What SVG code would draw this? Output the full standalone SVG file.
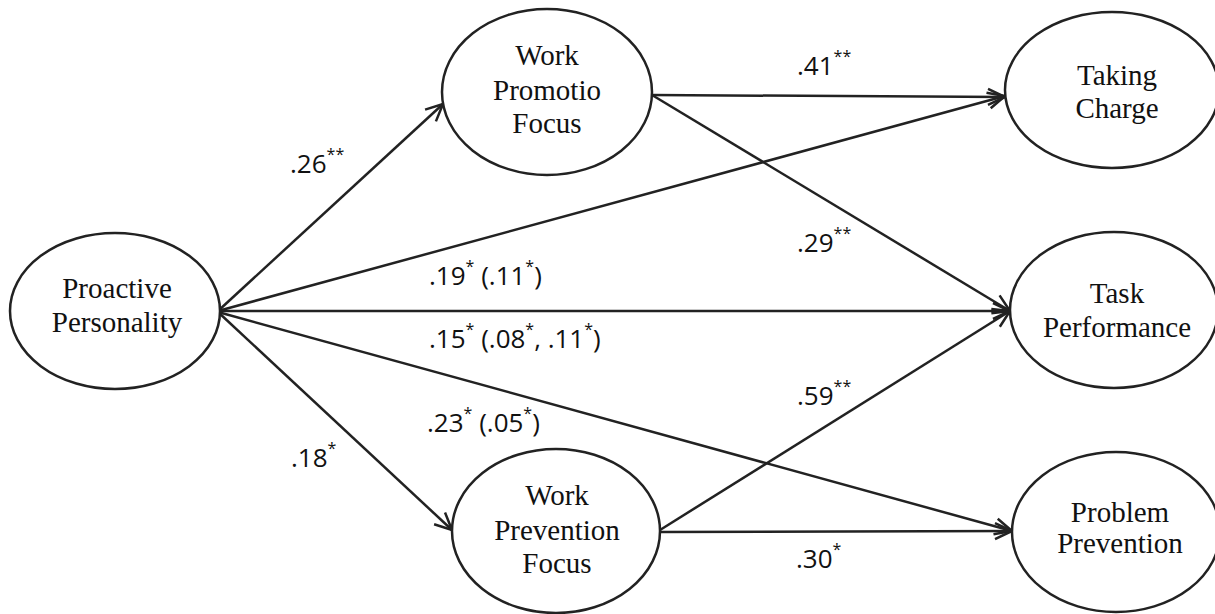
<svg xmlns="http://www.w3.org/2000/svg" width="1215" height="614" viewBox="0 0 1215 614">
<defs>
<marker id="arr" markerUnits="userSpaceOnUse" markerWidth="22" markerHeight="22" viewBox="0 0 22 22" refX="20" refY="11" orient="auto">
<path d="M3,3 L20,11 L3,19" fill="none" stroke="#222" stroke-width="2.5"/>
</marker>
<style>
.node ellipse{fill:#fff;stroke:#222;stroke-width:2.5}
.node text{font-family:"Liberation Serif","Times New Roman",serif;font-size:29px;fill:#111;text-anchor:middle}
.edges line{stroke:#222;stroke-width:2.5;marker-end:url(#arr)}
.lbl{font-family:"Open Sans","Liberation Sans",sans-serif;font-size:26px;fill:#111}
.sup{font-size:16px}
</style>
</defs>
<rect width="1215" height="614" fill="#fff"/>
<g class="edges">
<line x1="218" y1="311" x2="443" y2="104"/>
<line x1="218" y1="311" x2="1005" y2="96"/>
<line x1="652" y1="95" x2="1005" y2="97"/>
<line x1="652" y1="95" x2="1010" y2="311"/>
<line x1="218" y1="311" x2="1010" y2="311"/>
<line x1="218" y1="312" x2="1012" y2="531"/>
<line x1="218" y1="312" x2="452" y2="530"/>
<line x1="660" y1="530" x2="1010" y2="311"/>
<line x1="660" y1="532" x2="1012" y2="531"/>
</g>
<g id="proactive" class="node"><ellipse cx="115" cy="311" rx="105" ry="78"/><text x="117" y="298">Proactive</text><text x="117" y="332">Personality</text></g>
<g id="promotion" class="node"><ellipse cx="547" cy="92" rx="105" ry="83"/><text x="547" y="65">Work</text><text x="547" y="100">Promotio</text><text x="547" y="133">Focus</text></g>
<g id="prevention" class="node"><ellipse cx="556" cy="531" rx="104" ry="82"/><text x="557" y="505">Work</text><text x="557" y="540">Prevention</text><text x="557" y="573">Focus</text></g>
<g id="taking" class="node"><ellipse cx="1112" cy="90" rx="107" ry="78"/><text x="1117" y="85">Taking</text><text x="1117" y="118">Charge</text></g>
<g id="task" class="node"><ellipse cx="1114" cy="310" rx="104" ry="78"/><text x="1117" y="303">Task</text><text x="1117" y="337">Performance</text></g>
<g id="problem" class="node"><ellipse cx="1116" cy="532" rx="104" ry="80"/><text x="1120" y="522">Problem</text><text x="1120" y="553">Prevention</text></g>
<g id="labels">
<text class="lbl" x="290" y="173">.26<tspan class="sup" dy="-13">**</tspan></text>
<text class="lbl" x="797" y="75">.41<tspan class="sup" dy="-13">**</tspan></text>
<text class="lbl" x="797" y="252">.29<tspan class="sup" dy="-13">**</tspan></text>
<text class="lbl" x="429" y="285">.19<tspan class="sup" dy="-13">*</tspan><tspan dy="13"> (.11</tspan><tspan class="sup" dy="-13">*</tspan><tspan dy="13">)</tspan></text>
<text class="lbl" x="429" y="348">.15<tspan class="sup" dy="-13">*</tspan><tspan dy="13"> (.08</tspan><tspan class="sup" dy="-13">*</tspan><tspan dy="13">, .11</tspan><tspan class="sup" dy="-13">*</tspan><tspan dy="13">)</tspan></text>
<text class="lbl" x="797" y="405">.59<tspan class="sup" dy="-13">**</tspan></text>
<text class="lbl" x="427" y="432">.23<tspan class="sup" dy="-13">*</tspan><tspan dy="13"> (.05</tspan><tspan class="sup" dy="-13">*</tspan><tspan dy="13">)</tspan></text>
<text class="lbl" x="291" y="467">.18<tspan class="sup" dy="-13">*</tspan></text>
<text class="lbl" x="796" y="568">.30<tspan class="sup" dy="-13">*</tspan></text>
</g>
</svg>
